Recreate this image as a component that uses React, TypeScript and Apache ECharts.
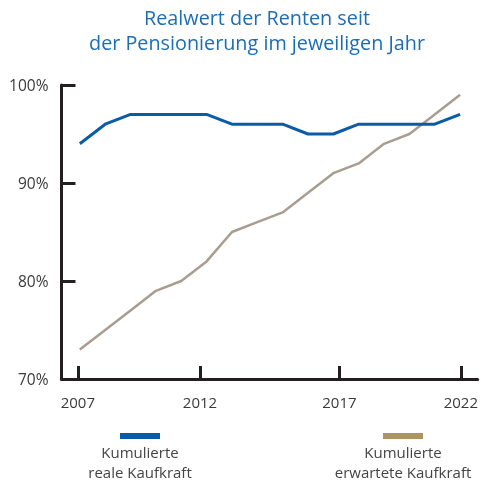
import React, { useEffect, useRef } from "react";
import * as echarts from "echarts";

const years = [2007, 2008, 2009, 2010, 2011, 2012, 2013, 2014, 2015, 2016, 2017, 2018, 2019, 2020, 2021, 2022];
const realeKaufkraft = [94, 96, 97, 97, 97, 97, 96, 96, 96, 95, 95, 96, 96, 96, 96, 97];
const erwarteteKaufkraft = [73, 75, 77, 79, 80, 82, 85, 86, 87, 89, 91, 92, 94, 95, 97, 99];
const xTickPositions = [2006.92, 2011.74, 2017.24, 2022.03];
const xTickLabels = ["2007", "2012", "2017", "2022"];
const titleLines = ["Realwert der Renten seit", "der Pensionierung im jeweiligen Jahr"];
const legendNames = ["Kumulierte\nreale Kaufkraft", "Kumulierte\nerwartete Kaufkraft"];

const BLUE = "#0a5ca8";
const TAUPE = "#a99d90";
const GOLD = "#ad9462";
const AXIS = "#231f20";
const FONT = "'Open Sans', 'Noto Sans', sans-serif";

export default function App() {
  const ref = useRef<HTMLDivElement>(null);
  useEffect(() => {
    if (!ref.current) return;
    const chart = echarts.init(ref.current, undefined, { renderer: "svg" });
    const pair = (vals: number[]) => years.map((y, i) => [y, vals[i]]);
    chart.setOption({
      animation: false,
      grid: { left: 61.5, right: 0, top: 85, bottom: 103, containLabel: false },
      xAxis: {
        type: "value",
        min: 2006.276,
        max: 2022.693,
        splitLine: { show: false },
        axisLine: { show: true, lineStyle: { color: AXIS, width: 3 } },
        axisTick: {
          show: true,
          inside: true,
          length: 13,
          customValues: xTickPositions,
          lineStyle: { color: AXIS, width: 3 },
        },
        axisLabel: {
          customValues: xTickPositions,
          formatter: (v: number) => xTickLabels[xTickPositions.indexOf(v)] ?? String(Math.round(v)),
          fontSize: 15,
          color: "#3a3a3a",
          fontFamily: FONT,
          margin: 15,
        },
      },
      yAxis: {
        type: "value",
        min: 70,
        max: 100,
        interval: 10,
        splitLine: { show: false },
        axisLine: { show: true, lineStyle: { color: AXIS, width: 3 } },
        axisTick: { show: true, inside: true, length: 14, lineStyle: { color: AXIS, width: 3 } },
        axisLabel: {
          formatter: "{value}%",
          fontSize: 15.5,
          color: "#3a3a3a",
          fontFamily: FONT,
          margin: 13,
        },
      },
      series: [
        {
          type: "line",
          name: "Kumulierte reale Kaufkraft",
          data: pair(realeKaufkraft),
          showSymbol: false,
          symbol: "none",
          lineStyle: { color: BLUE, width: 3 },
          z: 3,
        },
        {
          type: "line",
          name: "Kumulierte erwartete Kaufkraft",
          data: pair(erwarteteKaufkraft),
          showSymbol: false,
          symbol: "none",
          lineStyle: { color: TAUPE, width: 2.5 },
          z: 2,
        },
      ],
      graphic: [
        {
          type: "text",
          x: 257,
          y: 5,
          style: {
            text: titleLines.join("\n"),
            fill: "#1c6db7",
            fontSize: 19.8,
            lineHeight: 25,
            fontFamily: FONT,
            align: "center",
            verticalAlign: "top",
          },
        },
        { type: "rect", shape: { x: 120, y: 433, width: 40, height: 6 }, style: { fill: BLUE } },
        { type: "rect", shape: { x: 383, y: 433, width: 40, height: 6 }, style: { fill: GOLD } },
        {
          type: "text",
          x: 140,
          y: 442,
          style: {
            text: legendNames[0],
            fill: "#444",
            fontSize: 15,
            lineHeight: 20,
            fontFamily: FONT,
            align: "center",
            verticalAlign: "top",
          },
        },
        {
          type: "text",
          x: 403,
          y: 442,
          style: {
            text: legendNames[1],
            fill: "#444",
            fontSize: 15,
            lineHeight: 20,
            fontFamily: FONT,
            align: "center",
            verticalAlign: "top",
          },
        },
      ],
    });
    return () => chart.dispose();
  }, []);
  return <div ref={ref} style={{ position: "fixed", left: 0, top: 0, width: 481, height: 482 }} />;
}
